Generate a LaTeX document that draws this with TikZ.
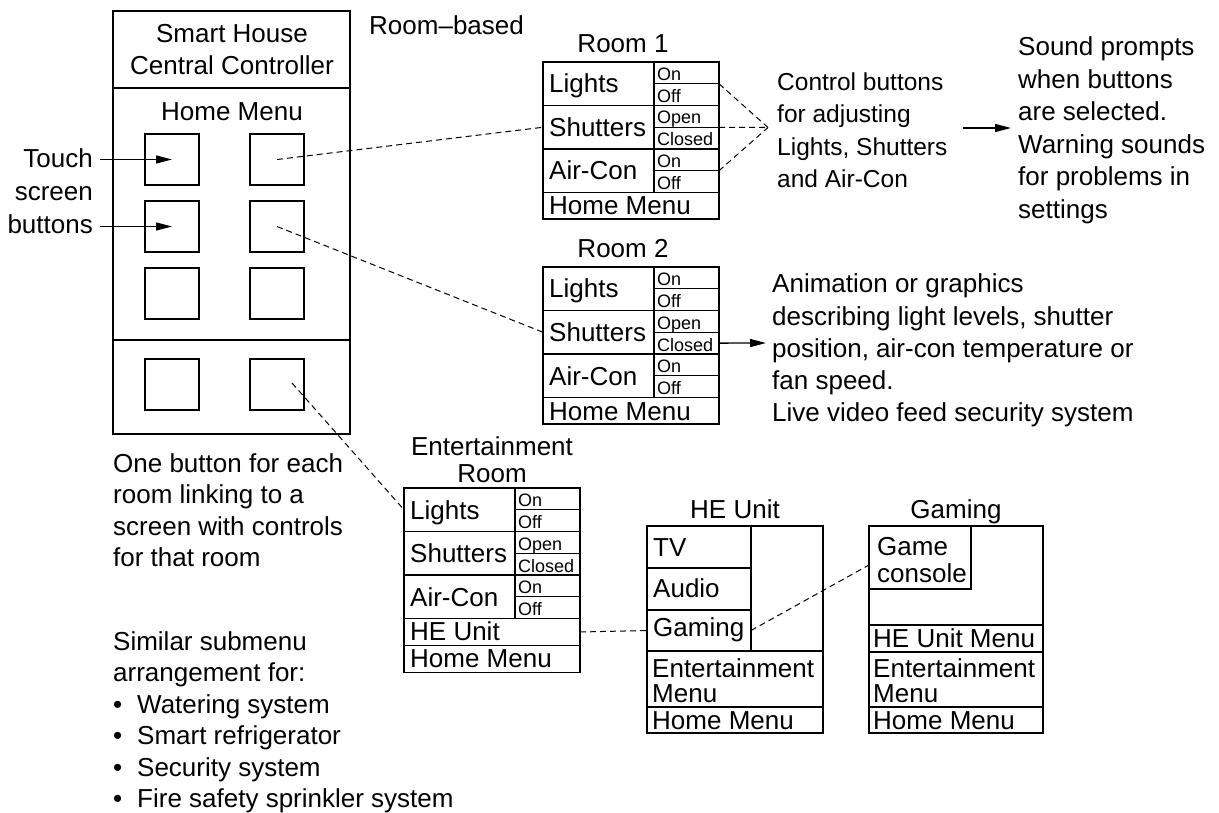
\documentclass[tikz,border=0pt]{standalone}
\usepackage{fontspec}
\setmainfont{Liberation Sans}
\usetikzlibrary{arrows.meta}

\tikzset{
  box/.style={draw, line width=1.3pt, anchor=north west, inner sep=0pt, outer sep=0pt},
  txt/.style={font=\fontsize{26}{32}\selectfont, anchor=base west, inner sep=0pt},
  txtc/.style={font=\fontsize{24.5}{30}\selectfont, anchor=base west, inner sep=0pt},
  ctr/.style={font=\fontsize{26}{32}\selectfont, anchor=base, inner sep=0pt},
  rgt/.style={font=\fontsize{26}{32}\selectfont, anchor=base east, inner sep=0pt},
  sm/.style={font=\fontsize{18}{20}\selectfont, anchor=base west, inner sep=0pt},
  link/.style={dash pattern=on 6pt off 4pt, line width=1pt},
  arr/.style={line width=1.3pt, -{Triangle[length=16pt,width=8pt]}},
  % three control rows (Lights / Shutters / Air-Con) with their option cells
  pics/ctrlrows/.style={code={
    \node[box, minimum width=111pt, minimum height=43.5pt] (-li) at (0,0) {};
    \node[box, minimum width=111pt, minimum height=43.5pt] (-sh) at (0,43.5) {};
    \node[box, minimum width=111pt, minimum height=43.5pt] (-ac) at (0,87) {};
    \foreach \k in {0,...,5}
      \node[box, minimum width=65pt, minimum height=21.75pt] (-s\k) at (111,\k*21.75) {};
    \node[txt] (-tli) at (6,31) {Lights};
    \node[txt] (-tsh) at (6,74.5) {Shutters};
    \node[txt] (-tac) at (6,118) {Air-Con};
    \node[sm] (-l0) at (114,18.5) {On};
    \node[sm] (-l1) at (114,40.5) {Off};
    \node[sm] (-l2) at (114,62) {Open};
    \node[sm] (-l3) at (114,84) {Closed};
    \node[sm] (-l4) at (114,105.5) {On};
    \node[sm] (-l5) at (114,127.5) {Off};
  }}
}

\begin{document}
\begin{tikzpicture}[x=1pt, y=-1pt]
\useasboundingbox (0,0) rectangle (1219,813);

% ---------- central controller ----------
\node[box, minimum width=237pt, minimum height=423pt] (ctl) at (113,11) {};
\draw[line width=1.3pt] (113,88) -- (350,88);
\draw[line width=1.3pt] (113,340) -- (350,340);
\node[ctr] (ctl1) at (232,43) {Smart House};
\node[ctr] (ctl2) at (232,75) {Central Controller};
\node[ctr] (home) at (232,121) {Home Menu};

\foreach \n/\x/\y in {1/145/134, 2/250/134, 3/145/201, 4/250/201,
                      5/145/268, 6/250/268, 7/145/359, 8/250/359}
  \node[box, minimum width=54pt, minimum height=51pt] (b\n) at (\x,\y) {};

\node[txt] (rb) at (369,35) {Room–based};

% touch screen label
\node[rgt] (t1) at (93,168) {Touch};
\node[rgt] (t2) at (93,201) {screen};
\node[rgt] (t3) at (93,234) {buttons};
\coordinate (ta) at (100,159.5);
\coordinate (tb) at (100,226.5);
\draw[arr] (ta) -- (b1.center);
\draw[arr] (tb) -- (b3.center);

% notes under the controller
\node[txt] (n1) at (113,472) {One button for each};
\node[txt] (n2) at (113,503.5) {room linking to a};
\node[txt] (n3) at (113,535) {screen with controls};
\node[txt] (n4) at (113,566.5) {for that room};

\node[txt] (s1) at (113,650) {Similar submenu};
\node[txt] (s2) at (113,681.5) {arrangement for:};
\foreach \i/\t/\y in {3/Watering system/713, 4/Smart refrigerator/744.5,
                      5/Security system/776, 6/Fire safety sprinkler system/807.5}{
  \node[txt] (d\i) at (113,\y) {\textbullet};
  \node[txt] (s\i) at (137,\y) {\t};
}

% ---------- room 1 ----------
\node[ctr] (r1t) at (623,53) {Room 1};
\pic (r1) at (543,62) {ctrlrows};
\node[box, minimum width=176pt, minimum height=26.5pt] (r1-hm) at (543,192.5) {};
\node[txt] (r1-thm) at (549,215) {Home Menu};

% ---------- room 2 ----------
\node[ctr] (r2t) at (623,258) {Room 2};
\pic (r2) at (543,267) {ctrlrows};
\node[box, minimum width=176pt, minimum height=26.5pt] (r2-hm) at (543,397.5) {};
\node[txt] (r2-thm) at (549,420) {Home Menu};

% ---------- entertainment room ----------
\node[ctr] (ent1) at (492,455) {Entertainment};
\node[ctr] (ent2) at (492,482) {Room};
\pic (en) at (404,488) {ctrlrows};
\node[box, minimum width=176pt, minimum height=27pt] (en-he) at (404,618.5) {};
\node[txt] (en-the) at (410,640) {HE Unit};
\node[box, minimum width=176pt, minimum height=27pt] (en-hm) at (404,645.5) {};
\node[txt] (en-thm) at (410,667) {Home Menu};

% ---------- HE unit ----------
\node[ctr] (het) at (735,518) {HE Unit};
\node[box, minimum width=176pt, minimum height=207pt] (he) at (647,526) {};
\node[box, minimum width=104pt, minimum height=42pt] (he-tv) at (647,526) {};
\node[box, minimum width=104pt, minimum height=42pt] (he-au) at (647,568) {};
\node[box, minimum width=104pt, minimum height=41pt] (he-ga) at (647,610) {};
\node[box, minimum width=176pt, minimum height=56pt] (he-em) at (647,651) {};
\node[box, minimum width=176pt, minimum height=26pt] (he-hm) at (647,707) {};
\node[txt] (he-t1) at (653,556) {TV};
\node[txt] (he-t2) at (653,597) {Audio};
\node[txt] (he-t3) at (653,636) {Gaming};
\node[txt] (he-t4) at (652,677) {Entertainment};
\node[txt] (he-t5) at (652,702) {Menu};
\node[txt] (he-t6) at (652,729) {Home Menu};

% ---------- gaming ----------
\node[ctr] (gmt) at (956,518) {Gaming};
\node[box, minimum width=174pt, minimum height=207pt] (gm) at (869,526) {};
\node[box, minimum width=102pt, minimum height=63pt] (gm-gc) at (869,526) {};
\node[box, minimum width=174pt, minimum height=27pt] (gm-hu) at (869,625) {};
\node[box, minimum width=174pt, minimum height=55pt] (gm-em) at (869,652) {};
\node[box, minimum width=174pt, minimum height=26pt] (gm-hm) at (869,707) {};
\node[txt] (gm-t1) at (877,555) {Game};
\node[txt] (gm-t2) at (877,582) {console};
\node[txt] (gm-t3) at (873,647) {HE Unit Menu};
\node[txt] (gm-t4) at (873,677) {Entertainment};
\node[txt] (gm-t5) at (873,702) {Menu};
\node[txt] (gm-t6) at (873,729) {Home Menu};

% ---------- side notes ----------
\node[txtc] (c1) at (777,91) {Control buttons};
\node[txtc] (c2) at (777,123) {for adjusting};
\node[txtc] (c3) at (777,155.5) {Lights, Shutters};
\node[txtc] (c4) at (777,188) {and Air-Con};

\node[txt] (p1) at (1018,56) {Sound prompts};
\node[txt] (p2) at (1018,88.5) {when buttons};
\node[txt] (p3) at (1018,121) {are selected.};
\node[txt] (p4) at (1018,153.5) {Warning sounds};
\node[txt] (p5) at (1018,186) {for problems in};
\node[txt] (p6) at (1018,218.5) {settings};

\node[txt] (g1) at (772,293) {Animation or graphics};
\node[txt] (g2) at (772,325) {describing light levels, shutter};
\node[txt] (g3) at (772,357) {position, air-con temperature or};
\node[txt] (g4) at (772,389) {fan speed.};
\node[txt] (g5) at (772,421) {Live video feed security system};

% ---------- connectors ----------
\draw[link] (b2.center) -- (r1-sh.west);
\draw[link] (b4.center) -- (r2-sh.west);
\coordinate (b8a) at (292,383);
\draw[link] (b8a) -- (en-li.west);

\coordinate (cv) at (768,127.5);
\draw[link] (r1-s0.south east) -- (cv);
\draw[link] (r1-s2.south east) -- (cv);
\draw[link] (r1-s4.south east) -- (cv);

\coordinate (sa) at (963,128);
\coordinate (sb) at (1011,128);
\draw[arr] (sa) -- (sb);

\coordinate (ga) at (766,343);
\draw[arr] (r2-s3.east) -- (ga);

\draw[link] (en-he.east) -- (he-ga.west);
\coordinate (gc) at (869,565);
\draw[link] (he-ga.east) -- (gc);
\end{tikzpicture}
\end{document}
